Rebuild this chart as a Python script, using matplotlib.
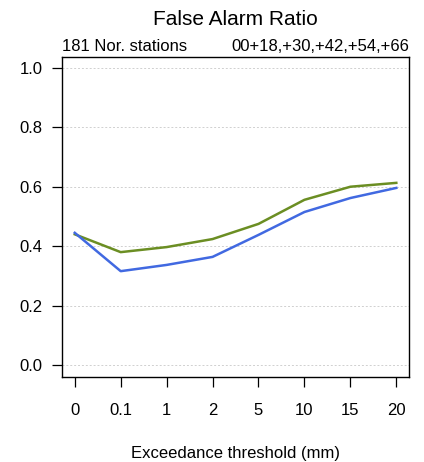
import matplotlib
matplotlib.use("Agg")
import matplotlib.pyplot as plt

plt.rcParams['font.family'] = ['Liberation Sans', 'DejaVu Sans']

thresholds = ["0", "0.1", "1", "2", "5", "10", "15", "20"]
far_blue = [0.445, 0.316, 0.337, 0.364, 0.438, 0.515, 0.562, 0.596]
far_green = [0.440, 0.380, 0.397, 0.424, 0.475, 0.556, 0.600, 0.613]
yticks = [0.0, 0.2, 0.4, 0.6, 0.8, 1.0]

fig = plt.figure(figsize=(4.24, 4.62), dpi=100)
ax = fig.add_axes([0.146, 0.184, 0.819, 0.693])

x = list(range(len(thresholds)))
for y in yticks:
    ax.axhline(y, color='#d0d0d0', lw=0.7, ls=(0, (2, 2)), zorder=0)
ax.plot(x, far_green, color='#6b8e23', lw=1.8)
ax.plot(x, far_blue, color='#4169e1', lw=1.8)

ax.set_xlim(-0.28, 7.28)
ax.set_ylim(-0.04, 1.037)
ax.set_xticks(x)
ax.set_xticklabels(thresholds)
ax.set_yticks(yticks)
ax.set_yticklabels([f"{v:.1f}" for v in yticks])
ax.tick_params(axis='both', labelsize=12, length=7, width=0.9, direction='out')
ax.tick_params(axis='y', pad=7)
ax.tick_params(axis='x', pad=12)
for s in ax.spines.values():
    s.set_linewidth(1.0)

ax.set_xlabel("Exceedance threshold (mm)", fontsize=12, labelpad=20)
ax.text(0.5, 1.0 + 28 / 320, "False Alarm Ratio", transform=ax.transAxes,
        ha='center', va='bottom', fontsize=15)
ax.text(0.0, 1.008, "181 Nor. stations", transform=ax.transAxes, ha='left', va='bottom', fontsize=12)
ax.text(1.0, 1.008, "00+18,+30,+42,+54,+66", transform=ax.transAxes, ha='right', va='bottom', fontsize=12)

fig.savefig("out.png", dpi=100)
